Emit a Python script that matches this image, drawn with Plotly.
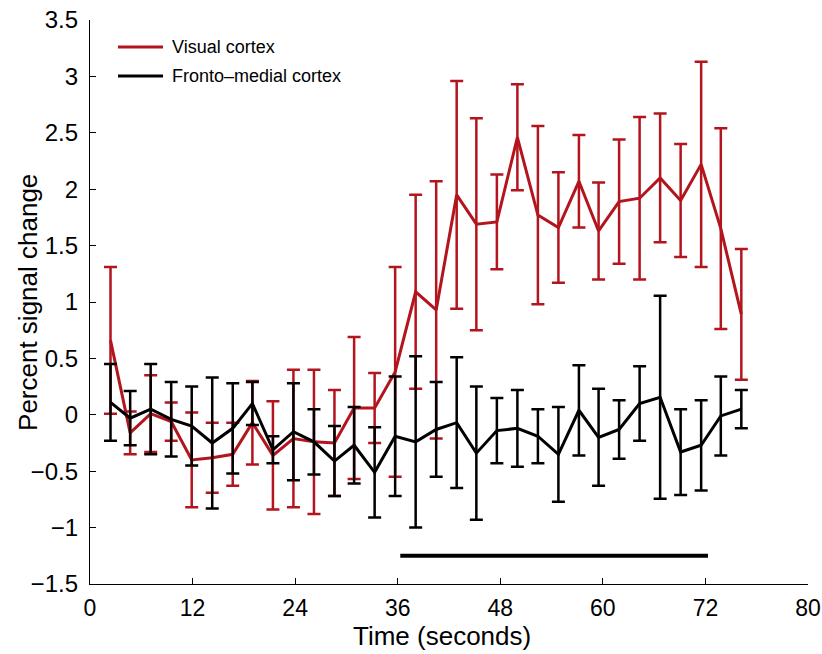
import plotly.graph_objects as go

# Time points (seconds)
time_s = [2.4, 4.7, 7.1, 9.5, 11.9, 14.3, 16.7, 19.0, 21.4, 23.8, 26.2, 28.6,
          30.9, 33.3, 35.7, 38.1, 40.5, 42.9, 45.2, 47.6, 50.0, 52.4, 54.8, 57.2,
          59.5, 61.9, 64.3, 66.7, 69.1, 71.5, 73.8, 76.2]

# Visual cortex: mean and error
visual_mean = [0.66, -0.16, 0.01, -0.06, -0.40, -0.38, -0.35, -0.07, -0.36, -0.21, -0.24, -0.25,
               0.06, 0.06, 0.38, 1.09, 0.93, 1.95, 1.69, 1.71, 2.46, 1.77, 1.66, 2.07,
               1.63, 1.89, 1.92, 2.10, 1.90, 2.22, 1.65, 0.89]
visual_err = [0.65, 0.19, 0.34, 0.17, 0.42, 0.31, 0.28, 0.37, 0.48, 0.61, 0.64, 0.47,
              0.63, 0.31, 0.93, 0.86, 1.14, 1.01, 0.94, 0.42, 0.47, 0.79, 0.49, 0.41,
              0.43, 0.55, 0.72, 0.57, 0.50, 0.91, 0.89, 0.58]

# Fronto-medial cortex: mean and error
fronto_mean = [0.11, -0.03, 0.05, -0.04, -0.10, -0.25, -0.12, 0.10, -0.31, -0.15, -0.24, -0.41,
               -0.27, -0.51, -0.19, -0.24, -0.13, -0.07, -0.34, -0.14, -0.12, -0.19, -0.35, 0.04,
               -0.20, -0.13, 0.10, 0.155, -0.33, -0.27, -0.01, 0.05]
fronto_err = [0.34, 0.24, 0.40, 0.33, 0.35, 0.58, 0.40, 0.19, 0.12, 0.43, 0.29, 0.31,
              0.34, 0.40, 0.53, 0.76, 0.42, 0.58, 0.59, 0.29, 0.34, 0.24, 0.42, 0.40,
              0.43, 0.26, 0.33, 0.90, 0.38, 0.40, 0.35, 0.17]

# Stimulus period bar
stim_x = [36.3, 72.3]
stim_y = [-1.25, -1.25]

x_tickvals = [0, 12, 24, 36, 48, 60, 72, 84]
x_ticktext = ["0", "12", "24", "36", "48", "60", "72", "80"]
y_tickvals = [-1.5, -1, -0.5, 0, 0.5, 1, 1.5, 2, 2.5, 3, 3.5]

series_names = ["Visual cortex", "Fronto\u2013medial cortex"]

RED = "#B3151E"
BLACK = "#000000"
FONT = "Liberation Sans, Arial, sans-serif"

fig = go.Figure()
fig.add_trace(go.Scatter(
    x=time_s, y=visual_mean, mode="lines", name=series_names[0], showlegend=False,
    line=dict(color=RED, width=3),
    error_y=dict(type="data", array=visual_err, visible=True, color=RED,
                 thickness=2.5, width=6.5),
))
fig.add_trace(go.Scatter(
    x=time_s, y=fronto_mean, mode="lines", name=series_names[1], showlegend=False,
    line=dict(color=BLACK, width=3),
    error_y=dict(type="data", array=fronto_err, visible=True, color=BLACK,
                 thickness=2.5, width=6.5),
))
fig.add_trace(go.Scatter(
    x=stim_x, y=stim_y, mode="lines", showlegend=False,
    line=dict(color=BLACK, width=4), hoverinfo="skip",
))

# Manual legend (line samples + labels)
legend_rows = [(0.952, RED, series_names[0]), (0.9007, BLACK, series_names[1])]
shapes = []
annotations = []
for ly, col, txt in legend_rows:
    shapes.append(dict(type="line", xref="paper", yref="paper", x0=0.039, x1=0.1017,
                       y0=ly, y1=ly, line=dict(color=col, width=3)))
    annotations.append(dict(text=txt, xref="paper", yref="paper", x=0.1114, y=ly,
                            xanchor="left", yanchor="middle", showarrow=False,
                            font=dict(size=18, family=FONT, color="black")))

annotations.append(dict(text="Time (seconds)", xref="paper", yref="paper", x=0.49, y=-0.0915,
                        xanchor="center", yanchor="middle", showarrow=False,
                        font=dict(size=26, family=FONT, color="black")))
annotations.append(dict(text="Percent signal change", xref="paper", yref="paper", x=-0.0864, y=0.5,
                        xanchor="center", yanchor="middle", textangle=-90, showarrow=False,
                        font=dict(size=26, family=FONT, color="black")))

fig.update_layout(
    width=822, height=654,
    margin=dict(l=90, r=14, t=20, b=70),
    paper_bgcolor="white", plot_bgcolor="white",
    font=dict(family=FONT, size=22, color="black"),
    showlegend=False,
    xaxis=dict(range=[0, 84], tickvals=x_tickvals, ticktext=x_ticktext,
               showgrid=False, zeroline=False, showline=True, linecolor="black",
               linewidth=1.2, ticks="inside", ticklen=6, tickcolor="black",
               automargin=False, tickfont=dict(size=23), ticklabelstandoff=3),
    yaxis=dict(range=[-1.5, 3.5], tickvals=y_tickvals,
               showgrid=False, zeroline=False, showline=True, linecolor="black",
               linewidth=1.2, ticks="inside", ticklen=6, tickcolor="black",
               automargin=False, tickfont=dict(size=24), ticklabelstandoff=6),
    shapes=shapes,
    annotations=annotations,
)

fig.write_html("out.html",
               config={"displayModeBar": False, "staticPlot": True},
               post_script="document.body.style.margin='0';document.body.style.overflow='hidden';")
